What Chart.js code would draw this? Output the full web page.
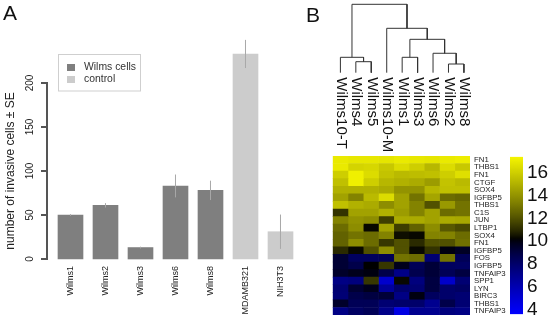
<!DOCTYPE html>
<html><head><meta charset="utf-8">
<script src="https://cdn.jsdelivr.net/npm/chart.js@4/dist/chart.umd.min.js"></script>
<style>
html,body{margin:0;padding:0;background:#fff;width:550px;height:321px;overflow:hidden}
.p{position:absolute}
</style></head><body>
<div class="p" style="left:0;top:0;width:305px;height:321px"><canvas id="cA"></canvas></div>
<div class="p" style="left:330px;top:150px;width:185px;height:171px"><canvas id="cH"></canvas></div>
<div class="p" style="left:505px;top:150px;width:45px;height:171px"><canvas id="cC"></canvas></div>
<div class="p" style="left:300px;top:0;width:185px;height:156px"><canvas id="cD"></canvas></div>
<script>
// ---------- Panel A data ----------
const barCats = ['Wilms1','Wilms2','Wilms3','Wilms6','Wilms8','MDAMB321','NIH3T3'];
const wilmsValues = [50, 61, 13, 83, 78];
const wilmsSE = [1, 2.5, 1, 13, 11];
const controlValues = [233, 31];
const controlSE = [16, 19.5];
const yTicksA = [0, 50, 100, 150, 200];

// ---------- Panel B data ----------
const sampleLabels = ['Wilms10-T','Wilms4','Wilms5','Wilms10-M','Wilms1','Wilms3','Wilms6','Wilms2','Wilms8'];
const geneLabels = ['FN1','THBS1','FN1','CTGF','SOX4','IGFBP5','THBS1','C1S','JUN','LTBP1','SOX4','FN1','IGFBP5','FOS','IGFBP5','TNFAIP3','SPP1','LYN','BIRC3','THBS1','TNFAIP3'];
const wilms10T = [17.0,17.0,16.0,15.5,15.0,14.5,15.5,11.2,13.5,12.8,12.5,12.5,11.0,9.3,9.3,9.5,7.3,7.8,7.7,9.5,7.3];
const wilms4   = [16.9,16.2,17.2,17.2,15.0,13.5,15.0,14.5,14.0,13.8,13.0,13.8,10.3,8.3,8.8,9.8,7.5,9.3,8.8,8.5,8.2];
const wilms5   = [16.9,16.3,16.5,16.0,15.0,15.3,14.8,14.5,13.8,10.3,12.8,12.8,12.0,8.3,10.2,10.0,11.3,9.8,9.0,8.5,8.5];
const wilms10M = [16.8,15.8,15.6,15.2,14.8,16.5,13.8,15.0,11.5,14.5,13.5,11.3,13.8,8.5,11.3,8.8,5.2,6.7,9.2,7.8,7.2];
const wilms1   = [17.0,16.5,15.3,15.0,14.0,14.5,14.5,14.3,14.8,11.5,10.4,12.0,12.0,13.0,9.8,7.2,10.3,8.0,7.3,8.0,4.5];
const wilms3   = [16.9,16.0,15.4,14.8,14.0,13.0,13.5,13.5,14.8,12.5,10.3,11.0,10.3,12.8,8.5,8.7,7.5,7.8,10.0,8.0,7.0];
const wilms6   = [16.8,15.2,15.5,14.3,15.2,14.6,12.0,14.5,14.5,13.8,13.5,12.0,11.2,7.8,9.2,9.2,9.0,9.0,8.3,7.0,7.0];
const wilms2   = [17.0,16.5,16.0,15.6,15.5,12.8,14.2,12.8,14.8,12.2,13.5,12.0,10.0,13.0,8.3,8.5,5.3,8.0,8.0,8.8,7.5];
const wilms8   = [17.1,15.8,16.6,15.3,15.5,12.6,13.0,13.0,14.7,11.8,12.8,12.9,9.6,8.5,8.2,9.0,7.8,8.2,7.8,7.8,7.3];
const sampleValues = [wilms10T, wilms4, wilms5, wilms10M, wilms1, wilms3, wilms6, wilms2, wilms8];
// hclust-style merges: negative = leaf (1-based), positive = earlier merge (1-based); third = height
const merges = [[-8,-9,1.27],[-2,-3,1.61],[-1,2,2.25],[-5,-6,2.25],[-7,1,2.84],[4,5,4.88],[-4,6,6.49],[3,7,10]];
const colorbarTicks = [4, 6, 8, 10, 12, 14, 16];
const colorMin = 3.6, colorMid = 10.2, colorMax = 17.4;

const FONT = "'Liberation Sans', Arial, Helvetica, sans-serif";
Chart.defaults.font.family = FONT;
Chart.defaults.animation = false;

function heatColor(v) {
  if (v >= colorMid) {
    const t = Math.pow(Math.min(1, (v - colorMid) / (colorMax - colorMid)), 0.8);
    const c = Math.round(245 * t);
    return `rgb(${c},${c},0)`;
  }
  const t = Math.pow(Math.min(1, (colorMid - v) / (colorMid - colorMin)), 0.8);
  return `rgb(0,0,${Math.round(255 * t)})`;
}

// ---------- Panel A ----------
const axisLine = {
  id: 'axisLine',
  afterDraw(chart) {
    const {ctx, chartArea, scales: {y}} = chart;
    const x0 = Math.round(chartArea.left);
    const yTop = Math.round(y.getPixelForValue(yTicksA[yTicksA.length - 1]));
    const yBot = Math.round(y.getPixelForValue(yTicksA[0]));
    ctx.save();
    ctx.fillStyle = '#555555';
    ctx.fillRect(x0 - 2, yTop - 1, 2, yBot - yTop + 2);
    yTicksA.forEach(v => {
      const py = Math.round(y.getPixelForValue(v));
      ctx.fillRect(x0 - 7, py - 1, 6, 2);
    });
    ctx.restore();
  }
};
const errorBars = {
  id: 'errorBars',
  afterDatasetsDraw(chart) {
    const {ctx, scales: {x, y}} = chart;
    ctx.save();
    ctx.strokeStyle = '#a8a8a8';
    ctx.lineWidth = 1;
    chart.data.datasets.forEach(ds => {
      ds.data.forEach((p, i) => {
        const px = x.getPixelForValue(p.x);
        ctx.beginPath();
        ctx.moveTo(px, y.getPixelForValue(p.y - ds.se[i]));
        ctx.lineTo(px, y.getPixelForValue(p.y + ds.se[i]));
        ctx.stroke();
      });
    });
    ctx.restore();
  }
};
const legendBox = {
  id: 'legendBox',
  afterDraw(chart) {
    const ctx = chart.ctx;
    ctx.save();
    ctx.strokeStyle = '#cfcfcf';
    ctx.lineWidth = 1;
    ctx.strokeRect(58.5, 54.5, 82, 36.5);
    ctx.font = `10.4px ${FONT}`;
    ctx.textBaseline = 'middle';
    chart.data.datasets.forEach((ds, i) => {
      const cy = 67.5 + i * 12;
      ctx.fillStyle = ds.backgroundColor;
      ctx.fillRect(67, cy - 3.5, 8, 7);
      ctx.fillStyle = '#333';
      ctx.fillText(ds.label, 84, cy);
    });
    ctx.restore();
  }
};

new Chart(document.getElementById('cA'), {
  type: 'bar',
  data: {
    datasets: [
      {label: 'Wilms cells', data: wilmsValues.map((v, i) => ({x: i + 0.5, y: v})), se: wilmsSE, backgroundColor: '#7f7f7f', clip: false},
      {label: 'control', data: controlValues.map((v, i) => ({x: wilmsValues.length + i + 0.5, y: v})), se: controlSE, backgroundColor: '#cccccc', clip: false}
    ]
  },
  options: {
    responsive: true, maintainAspectRatio: false,
    layout: {padding: {left: 3, top: 0, right: 7, bottom: 0}},
    datasets: {bar: {barThickness: 25, grouped: false, borderWidth: 0}},
    plugins: {
      legend: {display: false}, tooltip: {enabled: false},
      title: {display: true, text: 'A', align: 'start', color: '#111',
        font: {size: 21, weight: 'normal'}, padding: {top: 1.9, bottom: 55.9}}
    },
    scales: {
      x: {
        type: 'linear', min: -0.157, max: 7, offset: false,
        grid: {display: false, drawTicks: false}, border: {display: false},
        afterBuildTicks: s => { s.ticks = barCats.map((c, i) => ({value: i + 0.5})); },
        ticks: {autoSkip: false, minRotation: 90, maxRotation: 90, padding: 7, color: '#222',
          font: {size: 9}, callback: (v, i) => barCats[i]},
        afterFit: s => { s.height = 62; }
      },
      y: {
        min: 0, max: 200,
        afterBuildTicks: s => { s.ticks = yTicksA.map(v => ({value: v})); },
        grid: {display: false, drawTicks: false},
        border: {display: false},
        ticks: {minRotation: 90, maxRotation: 90, crossAlign: 'center', padding: 9, color: '#222', font: {size: 10}},
        title: {display: true, text: 'number of invasive cells ± SE', color: '#222', font: {size: 12}, padding: {top: 0, bottom: 0}},
        afterFit: s => { s.width = 44.5; }
      }
    }
  },
  plugins: [errorBars, legendBox, axisLine]
});

// ---------- Panel B: dendrogram ----------
const nodeX = [], nodeH = [];
function childPos(c) {
  return c < 0 ? {x: -c - 1, h: 0} : {x: nodeX[c - 1], h: nodeH[c - 1]};
}
const dendroSets = merges.map(([a, b, h]) => {
  const l = childPos(a), r = childPos(b);
  nodeX.push((l.x + r.x) / 2); nodeH.push(h);
  return {
    data: [{x: l.x, y: l.h}, {x: l.x, y: h}, {x: r.x, y: h}, {x: r.x, y: r.h}],
    showLine: true, borderColor: '#333', borderWidth: 1, pointRadius: 0, tension: 0, clip: false
  };
});
const leafText = {
  id: 'leafText',
  afterDraw(chart) {
    const {ctx, chartArea, scales: {x}} = chart;
    ctx.save();
    ctx.fillStyle = '#111';
    ctx.font = `15px ${FONT}`;
    ctx.textBaseline = 'middle';
    ctx.textAlign = 'left';
    sampleLabels.forEach((lab, i) => {
      ctx.save();
      ctx.translate(x.getPixelForValue(i) + 0.5, chartArea.bottom + 4.6);
      ctx.rotate(Math.PI / 2);
      ctx.fillText(lab, 0, 0);
      ctx.restore();
    });
    ctx.font = `21px ${FONT}`;
    ctx.textBaseline = 'alphabetic';
    ctx.fillText('B', 6, 22);
    ctx.restore();
  }
};
new Chart(document.getElementById('cD'), {
  type: 'scatter',
  data: {datasets: dendroSets},
  options: {
    responsive: true, maintainAspectRatio: false,
    layout: {padding: {left: 24.96, right: 5.64, top: 4.3, bottom: 83.3}},
    plugins: {legend: {display: false}, tooltip: {enabled: false}},
    scales: {
      x: {type: 'linear', min: -1, max: 9, display: false},
      y: {type: 'linear', min: 0, max: 10, display: false}
    }
  },
  plugins: [leafText]
});

// ---------- Panel B: heatmap ----------
new Chart(document.getElementById('cH'), {
  type: 'bar',
  data: {
    labels: geneLabels,
    datasets: sampleValues.map((vals, j) => ({
      label: sampleLabels[j],
      data: vals.map(() => 1),
      backgroundColor: vals.map(heatColor),
      borderWidth: 0, barPercentage: 1, categoryPercentage: 1
    }))
  },
  options: {
    indexAxis: 'y',
    responsive: true, maintainAspectRatio: false,
    layout: {padding: {left: 2.7, right: 0, top: 4.7, bottom: 3.3}},
    plugins: {legend: {display: false}, tooltip: {enabled: false}},
    scales: {
      x: {stacked: true, min: 0, max: 9, display: false},
      y: {
        stacked: true, position: 'right',
        grid: {display: false, drawTicks: false}, border: {display: false},
        ticks: {autoSkip: false, padding: 4, color: '#222', font: {size: 7.8, lineHeight: 0.5}},
        afterFit: s => { s.width = 45; }
      }
    }
  }
});

// ---------- Panel B: colour key ----------
new Chart(document.getElementById('cC'), {
  type: 'bar',
  data: {
    labels: [''],
    datasets: [{
      data: [[colorMin, colorMax]],
      borderWidth: 0, barPercentage: 1, categoryPercentage: 1,
      backgroundColor: (c) => {
        const chart = c.chart;
        if (!chart.chartArea) return '#000';
        const y = chart.scales.y;
        const g = chart.ctx.createLinearGradient(0, y.getPixelForValue(colorMin), 0, y.getPixelForValue(colorMax));
        const n = 60;
        for (let k = 0; k <= n; k++) {
          const v = colorMin + (colorMax - colorMin) * k / n;
          g.addColorStop(k / n, heatColor(v));
        }
        return g;
      }
    }]
  },
  options: {
    responsive: true, maintainAspectRatio: false,
    layout: {padding: {left: 5, right: 0, top: 3, bottom: 4.3}},
    plugins: {legend: {display: false}, tooltip: {enabled: false}},
    scales: {
      x: {display: false},
      y: {
        min: colorMin, max: colorMax, position: 'right',
        afterBuildTicks: s => { s.ticks = colorbarTicks.map(v => ({value: v})); },
        grid: {display: false, drawTicks: false}, border: {display: false},
        ticks: {autoSkip: false, padding: 4, color: '#111', font: {size: 19, lineHeight: 0.3}},
        afterFit: s => { s.width = 27; }
      }
    }
  }
});
</script>
</body></html>
